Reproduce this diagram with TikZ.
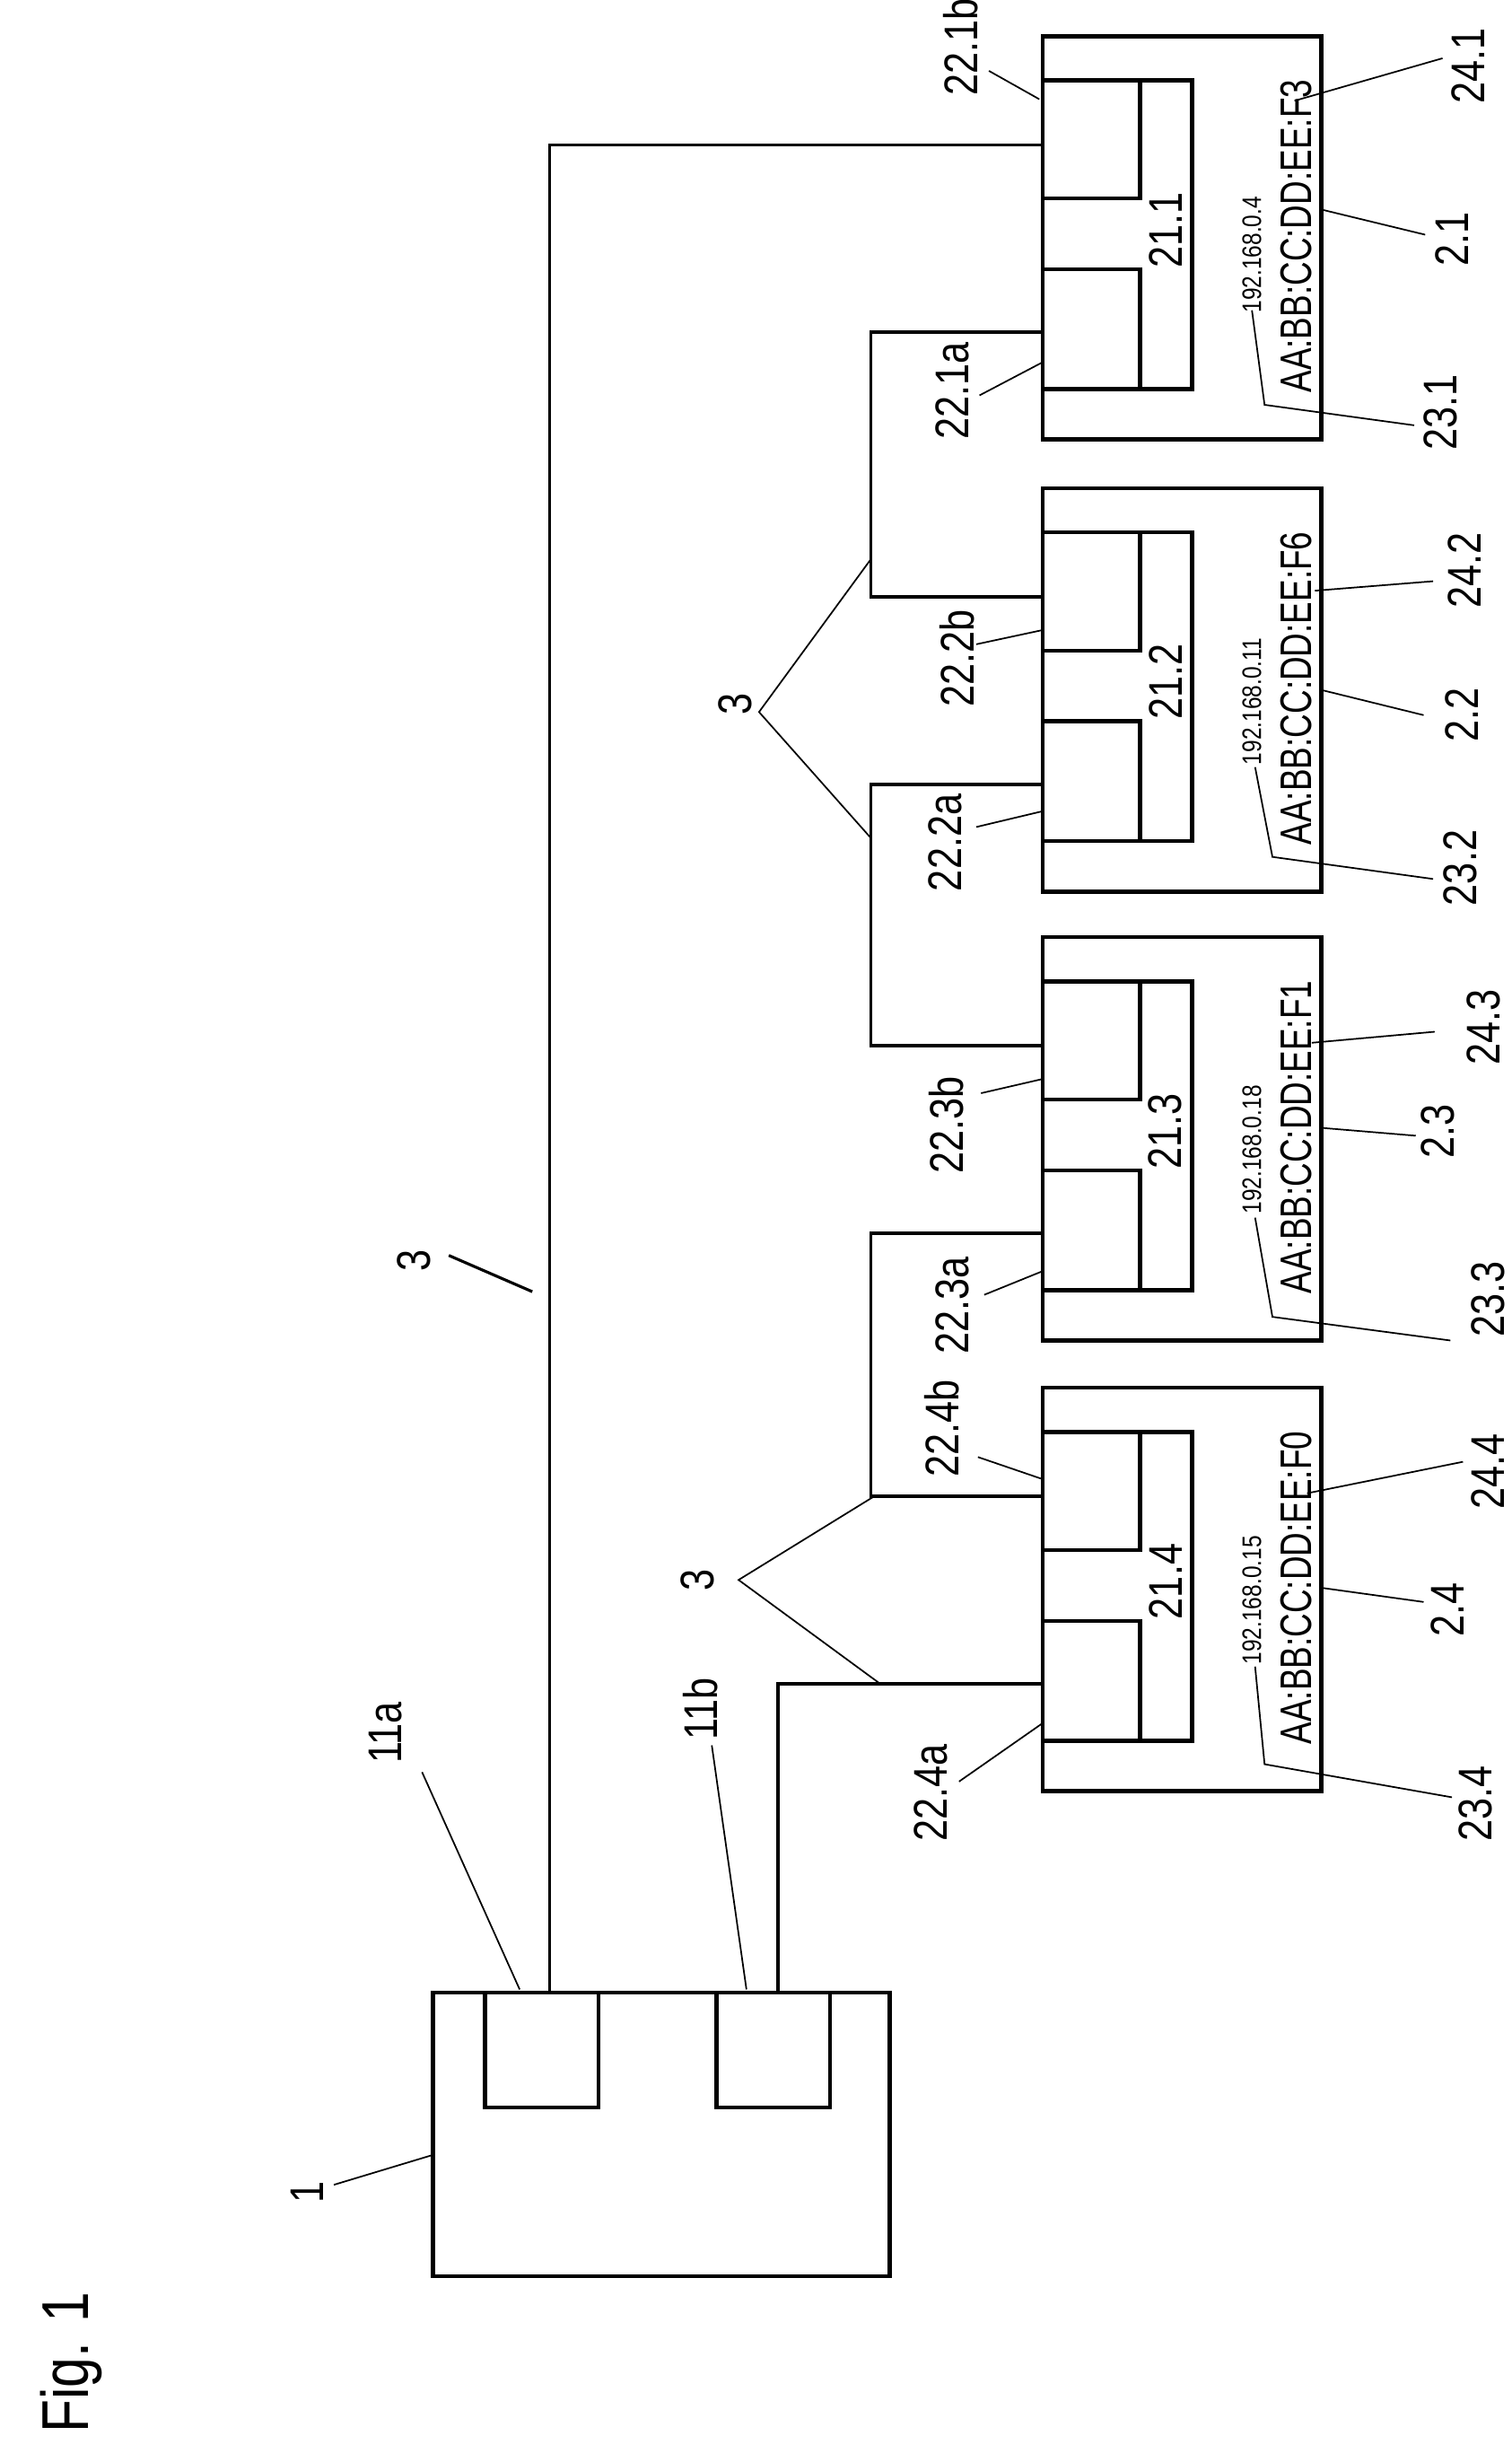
\documentclass[tikz,border=0pt]{standalone}
\usepackage{fontspec}
\setmainfont{Liberation Sans}[FakeStretch=0.82]
\newfontfamily\macf{Liberation Sans}[FakeStretch=0.75]
\begin{document}
\begin{tikzpicture}[x=0.01755cm,y=-0.01755cm,
  box/.style={line width=1.3pt},
  wire/.style={line width=1.1pt},
  lead/.style={line width=0.5pt},
  lbl/.style={rotate=90,inner sep=0pt,font=\fontsize{15}{15}\selectfont},
  mac/.style={rotate=90,inner sep=0pt,font=\macf\fontsize{14}{14}\selectfont},
  ip/.style={rotate=90,inner sep=0pt,anchor=west,font=\fontsize{8.5}{8.5}\selectfont}]
\useasboundingbox (0,0) rectangle (960,1563);
% controller
\draw[box] (275,1265) rectangle (565,1445);
\draw[box] (308,1265) rectangle (380,1338);
\draw[box] (455,1265) rectangle (527,1338);
\coordinate (p11a) at (349,1265);
\coordinate (p11b) at (494,1265);
\node[lbl] (t11a) at (245,1100) {11a};
\node[lbl] (t11b) at (445,1085) {11b};
\node[lbl] (t1) at (195,1392) {1};
\draw[lead] (268,1125) -- (330,1263);
\draw[lead] (452,1108) -- (474,1263);
\draw[lead] (212,1387) -- (275,1368);
\node[rotate=90,inner sep=0pt,font=\fontsize{21}{21}\selectfont] (fig) at (45,1500) {Fig. 1};
% devices
\foreach \T/\n/\ip/\mac in {23/1/192.168.0.4/AA:BB:CC:DD:EE:F3, 310/2/192.168.0.11/AA:BB:CC:DD:EE:F6, 595/3/192.168.0.18/AA:BB:CC:DD:EE:F1, 881/4/192.168.0.15/AA:BB:CC:DD:EE:F0}{
  \draw[box] (662,\T) rectangle (839,\T+256);
  \draw[box] (662,\T+28) rectangle (757,\T+224);
  \draw[box] (662,\T+28) rectangle (724,\T+103);
  \draw[box] (662,\T+148) rectangle (724,\T+224);
  \node[lbl] (s\n) at (740,\T+123) {21.\n};
  \node[ip] (ip\n) at (795,\T+176) {\ip};
  \node[mac] (mac\n) at (823,\T+127) {\mac};
  \coordinate (a\n) at (662,\T+188);
  \coordinate (b\n) at (662,\T+69);
}
% wires
\draw[wire] (p11a) |- (b1);
\draw[wire] (p11b) |- (a4);
\draw[wire] (b4) -| (553,783) -- (a3);
\draw[wire] (b3) -| (553,498) -- (a2);
\draw[wire] (b2) -| (553,211) -- (a1);
% cable labels 3
\node[lbl] (c1) at (263,800) {3};
\draw[line width=0.9pt] (285,797) -- (338,820);
\node[lbl] (c2) at (467,447) {3};
\draw[lead] (553,355) -- (482,452) -- (553,532);
\node[lbl] (c3) at (443,1003) {3};
\draw[lead] (555,950) -- (469,1003) -- (559,1069);
% box 2.1 labels
\node[lbl] at (610,30) {22.1b}; \draw[lead] (628,45) -- (660,63);
\node[lbl] at (605,248) {22.1a}; \draw[lead] (622,251) -- (662,230);
\node[lbl] at (932,42) {24.1}; \draw[lead] (822,64) -- (916,37);
\node[lbl] at (922,152) {2.1}; \draw[lead] (839,133) -- (905,149);
\node[lbl] at (915,262) {23.1}; \draw[lead] (795,197) -- (803,257) -- (898,270);
% box 2.2 labels
\node[lbl] at (608,418) {22.2b}; \draw[lead] (620,409) -- (662,400);
\node[lbl] at (600,535) {22.2a}; \draw[lead] (620,525) -- (662,515);
\node[lbl] at (930,362) {24.2}; \draw[lead] (835,375) -- (910,369);
\node[lbl] at (928,454) {2.2}; \draw[lead] (839,438) -- (904,454);
\node[lbl] at (927,551) {23.2}; \draw[lead] (797,487) -- (808,544) -- (910,558);
% box 2.3 labels
\node[lbl] at (601,714) {22.3b}; \draw[lead] (623,694) -- (662,685);
\node[lbl] at (605,829) {22.3a}; \draw[lead] (625,822) -- (662,807);
\node[lbl] at (942,652) {24.3}; \draw[lead] (833,662) -- (911,655);
\node[lbl] at (913,718) {2.3}; \draw[lead] (839,716) -- (899,721);
\node[lbl] at (945,825) {23.3}; \draw[lead] (797,773) -- (808,836) -- (921,851);
% box 2.4 labels
\node[lbl] at (598,907) {22.4b}; \draw[lead] (621,925) -- (662,939);
\node[lbl] at (591,1138) {22.4a}; \draw[lead] (609,1131) -- (662,1094);
\node[lbl] at (945,934) {24.4}; \draw[lead] (830,948) -- (929,928);
\node[lbl] at (919,1022) {2.4}; \draw[lead] (839,1008) -- (904,1017);
\node[lbl] at (937,1145) {23.4}; \draw[lead] (797,1058) -- (803,1120) -- (922,1141);
\end{tikzpicture}
\end{document}
